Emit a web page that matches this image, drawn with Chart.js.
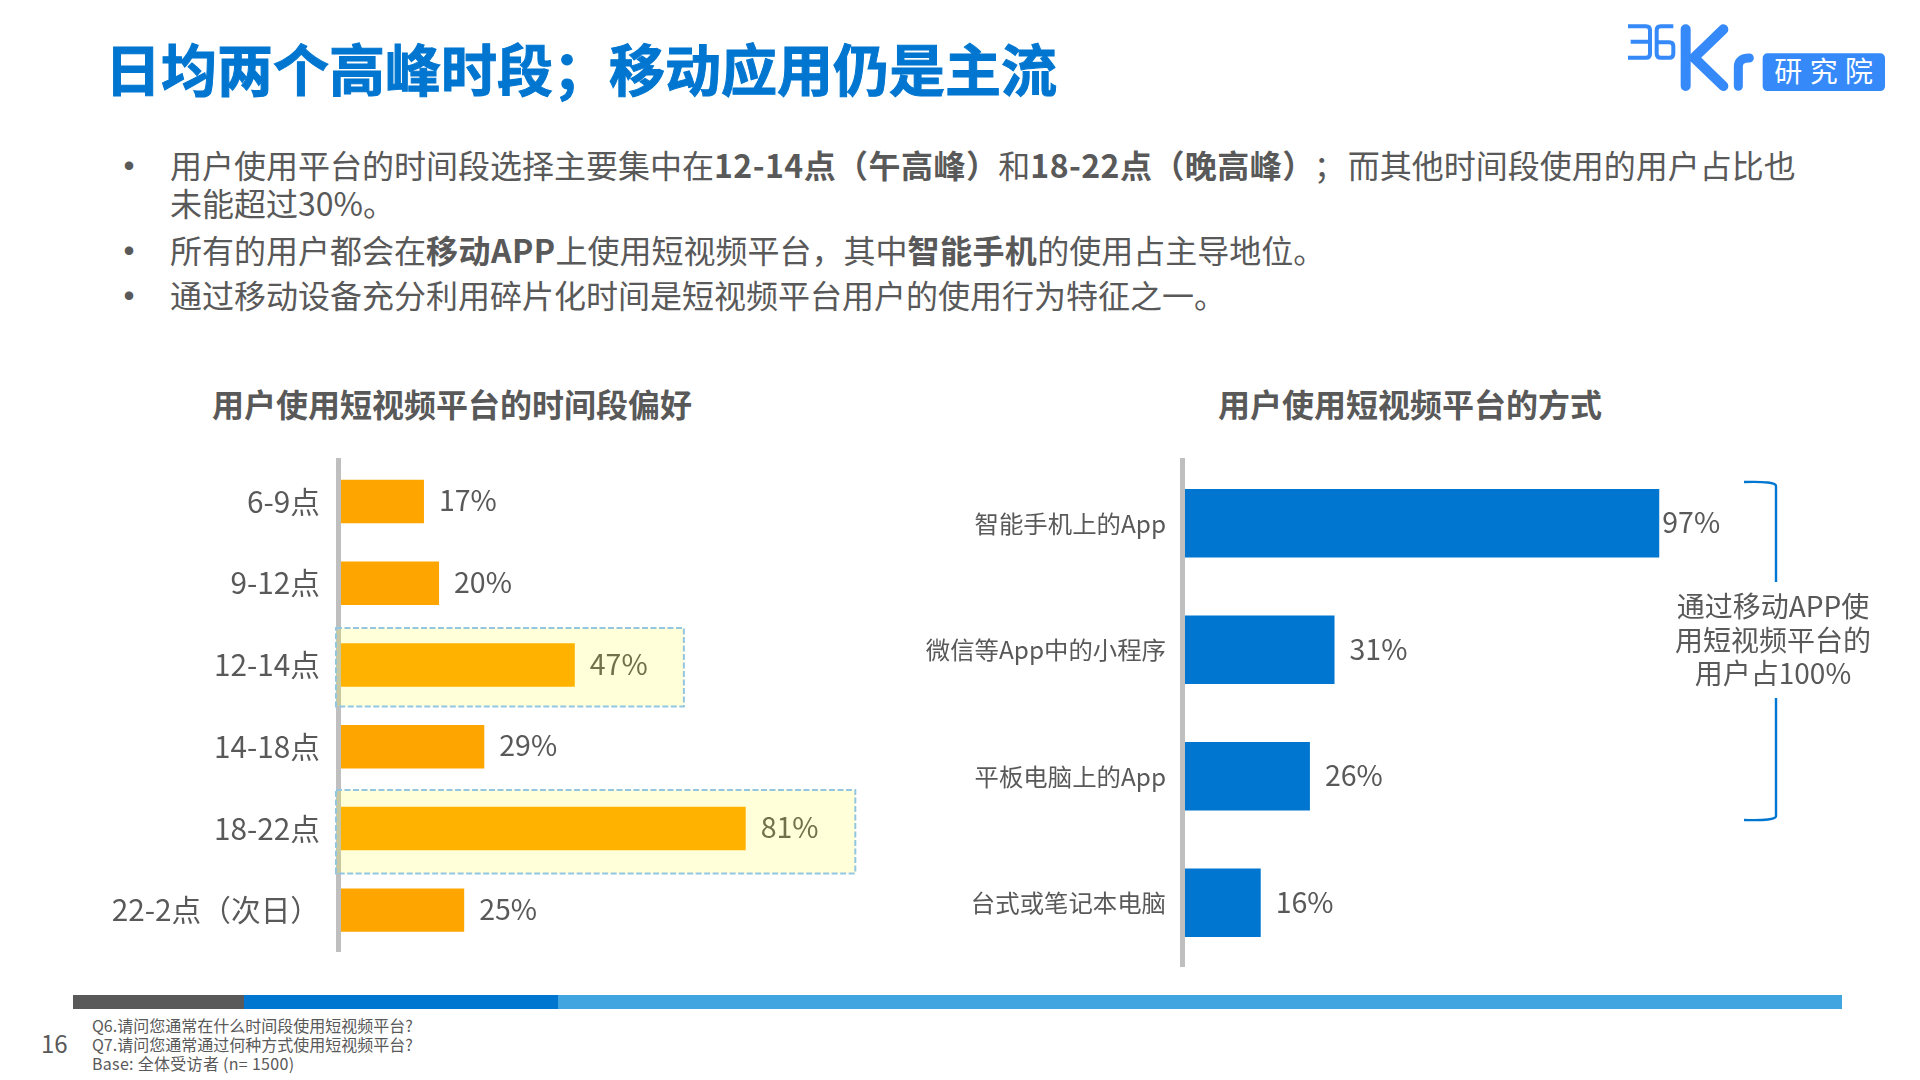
<!DOCTYPE html>
<html lang="zh-CN">
<head>
<meta charset="utf-8">
<title>日均两个高峰时段</title>
<script src="https://cdn.jsdelivr.net/npm/chart.js@4/dist/chart.umd.min.js"></script>
<style>
  html, body { margin: 0; background: #fff; }
  #page { position: relative; width: 1920px; height: 1080px; overflow: hidden; font-family: "Noto Sans CJK SC", "Noto Sans", sans-serif; color: #595959; }
  #page > * { position: absolute; }
  .title { left: 105px; top: 31px; font-size: 56px; line-height: 72px; font-weight: 700; color: #0076d0; white-space: nowrap; -webkit-text-stroke: 1px #0076d0; }
  .line { left: 170px; font-size: 32px; line-height: 38px; white-space: nowrap; }
  .line b { letter-spacing: 0.45px; }
  .dot { left: 109px; font-size: 40px; line-height: 38px; }
  .sub { font-size: 32px; line-height: 40px; font-weight: 700; white-space: nowrap; }
  .foot { left: 92px; font-size: 16px; line-height: 19px; white-space: nowrap; }
  .note { left: 1673px; width: 200px; top: 589px; text-align: center; font-size: 28px; line-height: 33.5px; }
  .strip { height: 14px; top: 995px; }
  canvas { display: block; }
</style>
</head>
<body>
<div id="page">
  <div class="title">日均两个高峰时段；移动应用仍是主流</div>

  <svg style="left:1620px;top:15px" width="280" height="85" viewBox="0 0 840 255" fill="none" stroke="#3589f8">
    <path stroke-width="12" d="M24 34H78Q90 34 90 46V116Q90 128 78 128H24M32 80H88"/>
    <path stroke-width="12" d="M160 34H122Q110 34 110 46V116Q110 128 122 128H148Q160 128 160 116V94Q160 82 148 82H110"/>
    <path stroke-width="30" stroke-linecap="round" d="M197 43V213M310 43L222 128L310 213"/>
    <path stroke-width="27" stroke-linecap="round" d="M355 214V155Q355 129 388 129"/>
    <rect x="428" y="115" width="367" height="113" rx="14" fill="#3589f8" stroke="none"/>
    <text x="622" y="201" text-anchor="middle" font-size="84" letter-spacing="22" fill="#fff" stroke="none" font-family="Noto Sans CJK SC">研究院</text>
  </svg>

  <div class="dot" style="top:145px">•</div>
  <div class="line" style="top:145px">用户使用平台的时间段选择主要集中在<b>12-14点（午高峰）</b>和<b>18-22点（晚高峰）</b><span style="margin:0 2px 0 15px">；</span>而其他时间段使用的用户占比也</div>
  <div class="line" style="top:183px">未能超过30%。</div>
  <div class="dot" style="top:230px">•</div>
  <div class="line" style="top:230px">所有的用户都会在<b>移动APP</b>上使用短视频平台，其中<b>智能手机</b>的使用占主导地位。</div>
  <div class="dot" style="top:275px">•</div>
  <div class="line" style="top:275px">通过移动设备充分利用碎片化时间是短视频平台用户的使用行为特征之一。</div>

  <div class="sub" style="left:212px;top:383px">用户使用短视频平台的时间段偏好</div>
  <div class="sub" style="left:1218px;top:383px">用户使用短视频平台的方式</div>

  <canvas id="timeChart" width="840" height="530" style="left:60px;top:440px"></canvas>
  <canvas id="deviceChart" width="860" height="540" style="left:900px;top:440px"></canvas>

  <svg style="left:1730px;top:470px" width="60" height="360" fill="none" stroke="#0076d0" stroke-width="2.4">
    <path d="M14 12Q46 11 46 16V112"/>
    <path d="M46 228V346Q46 351 14 350"/>
  </svg>
  <div class="note">通过移动APP使<br>用短视频平台的<br>用户占100%</div>

  <div class="strip" style="left:73px;width:171px;background:#595959"></div>
  <div class="strip" style="left:244px;width:314px;background:#0076d0"></div>
  <div class="strip" style="left:558px;width:1284px;background:#41a6e0"></div>

  <div style="left:41px;top:1026px;font-size:24px;line-height:34px">16</div>
  <div class="foot" style="top:1016px">Q6.请问您通常在什么时间段使用短视频平台?</div>
  <div class="foot" style="top:1035px">Q7.请问您通常通过何种方式使用短视频平台?</div>
  <div class="foot" style="top:1054px;letter-spacing:0.3px">Base: 全体受访者 (n= 1500)</div>
</div>

<script>
const timeSlots = ['6-9点', '9-12点', '12-14点', '14-18点', '18-22点', '22-2点（次日）'];
const timeShares = [17, 20, 47, 29, 81, 25];
const devices = ['智能手机上的App', '微信等App中的小程序', '平板电脑上的App', '台式或笔记本电脑'];
const deviceShares = [97, 31, 26, 16];

const FONT = '"Noto Sans CJK SC", "Noto Sans", sans-serif';
const TEXT = '#595959';

Chart.defaults.animation = false;
Chart.defaults.font.family = FONT;

// Chart.js has no value labels of its own
const barLabels = {
  id: 'barLabels',
  afterDatasetsDraw(chart) {
    const ctx = chart.ctx;
    const values = chart.data.datasets[0].data;
    ctx.save();
    ctx.font = '28.5px ' + FONT;
    ctx.fillStyle = TEXT;
    ctx.textBaseline = 'middle';
    chart.getDatasetMeta(0).data.forEach((bar, i) => {
      // the longest bar has its label pressed against the end
      const gap = values[i] > 90 ? 3 : 15;
      ctx.fillText(values[i] + '%', bar.x + gap, bar.y - 1);
    });
    ctx.restore();
  }
};

// yellow dashed boxes over the two peak rows
const peakBoxes = {
  id: 'peakBoxes',
  afterDraw(chart) {
    const { ctx, scales: { x, y } } = chart;
    [[2, 68.7, -0.453, 0.508], [4, 102.8, -0.471, 0.551]].forEach(([row, end, up, down]) => {
      const left = x.getPixelForValue(-0.5);
      const top = y.getPixelForValue(row + up);
      const w = x.getPixelForValue(end) - left;
      const h = y.getPixelForValue(row + down) - top;
      ctx.save();
      ctx.fillStyle = 'rgba(255, 255, 0, 0.15)';
      ctx.fillRect(left, top, w, h);
      ctx.strokeStyle = '#93c6e0';
      ctx.lineWidth = 2;
      ctx.setLineDash([6, 2.5]);
      ctx.strokeRect(left, top, w, h);
      ctx.restore();
    });
  }
};

function barOptions(axisWidth, max, padding, tickSize, tickPadding) {
  return {
    indexAxis: 'y',
    responsive: false,
    layout: { padding },
    plugins: { legend: { display: false }, tooltip: { enabled: false } },
    scales: {
      x: { display: false, min: 0, max },
      y: {
        afterFit: scale => {
          scale.width = axisWidth;
          // labels must not push the plot away from the padding set above
          scale.paddingTop = 0;
          scale.paddingBottom = 0;
        },
        grid: { display: false, drawTicks: false },
        border: { color: '#bfbfbf', width: 5, z: 1 },
        ticks: { color: TEXT, padding: tickPadding, autoSkip: false, font: { size: tickSize } }
      }
    }
  };
}

new Chart(document.getElementById('timeChart'), {
  type: 'bar',
  data: {
    labels: timeSlots,
    datasets: [{ data: timeShares, backgroundColor: '#ffa500', barPercentage: 0.532, categoryPercentage: 1 }]
  },
  options: barOptions(278.5, 110, { top: 20.6, bottom: 19, right: 8.5 }, 29.7, 18.5),
  plugins: [barLabels, peakBoxes]
});

new Chart(document.getElementById('deviceChart'), {
  type: 'bar',
  data: {
    labels: devices,
    datasets: [{ data: deviceShares, backgroundColor: '#0076d0', barPercentage: 0.54, categoryPercentage: 1 }]
  },
  options: barOptions(282, 100, { top: 20, bottom: 14, right: 86 }, 24.4, 16),
  plugins: [barLabels]
});
</script>
</body>
</html>
